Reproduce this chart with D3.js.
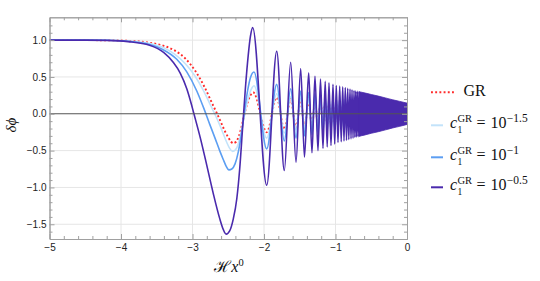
<!DOCTYPE html>
<html><head><meta charset="utf-8">
<script src="https://cdn.jsdelivr.net/npm/d3@7"></script>
<style>html,body{margin:0;padding:0;background:#fff;}svg{display:block;}</style>
</head><body>
<svg id="chart" width="540" height="281"></svg>
<script>
// ---------------- data ----------------
const xTicks = [-5, -4, -3, -2, -1, 0];
const yTicks = [-1.5, -1, -0.5, 0, 0.5, 1];
const xMinor = [-4.8,-4.6,-4.4,-4.2,-3.8,-3.6,-3.4,-3.2,-2.8,-2.6,-2.4,-2.2,-1.8,-1.6,-1.4,-1.2,-0.8,-0.6,-0.4,-0.2];
const yMinor = [-1.6,-1.4,-1.3,-1.2,-1.1,-0.9,-0.8,-0.7,-0.6,-0.4,-0.3,-0.2,-0.1,0.1,0.2,0.3,0.4,0.6,0.7,0.8,0.9,1.1,1.2];

const seriesNames = ["GR", "10^-1.5", "10^-1", "10^-0.5"];
const legendExp = ["", "\u22121.5", "\u22121", "\u22120.5"];

// smooth approach and first swing of each curve: [Hx0, dphi]
const grLead = [[-5,1],[-4.5,1],[-4.2,0.998],[-3.9,0.99],[-3.6,0.965],[-3.41,0.925],[-3.25,0.86],[-3.1,0.75],[-2.96,0.58],[-2.83,0.36],[-2.72,0.13],[-2.66,0.01],[-2.6,-0.12],[-2.55,-0.23],[-2.5,-0.32],[-2.46,-0.38],[-2.43,-0.40],[-2.39,-0.38],[-2.35,-0.30],[-2.31,-0.16],[-2.27,0.01],[-2.23,0.15],[-2.19,0.25],[-2.15,0.29]];
const lightLead = [[-5,1],[-4.5,1],[-4.2,0.998],[-3.9,0.988],[-3.6,0.955],[-3.41,0.90],[-3.25,0.81],[-3.1,0.68],[-2.97,0.52],[-2.85,0.32],[-2.75,0.12],[-2.685,-0.01],[-2.62,-0.15],[-2.57,-0.27],[-2.52,-0.39],[-2.48,-0.47],[-2.44,-0.51],[-2.40,-0.49],[-2.36,-0.41],[-2.32,-0.25],[-2.28,-0.05],[-2.24,0.14],[-2.20,0.28],[-2.17,0.35],[-2.14,0.38]];
const blueLead = [[-5,1],[-4.5,1],[-4.2,0.998],[-3.9,0.985],[-3.6,0.94],[-3.41,0.87],[-3.22,0.74],[-3.08,0.57],[-2.94,0.31],[-2.84,0.07],[-2.76,-0.14],[-2.685,-0.33],[-2.62,-0.50],[-2.57,-0.62],[-2.53,-0.71],[-2.49,-0.762],[-2.45,-0.75],[-2.405,-0.68],[-2.36,-0.52],[-2.31,-0.24],[-2.27,0.05],[-2.23,0.31],[-2.19,0.49],[-2.14,0.568]];
const purpleLead = [[-5,1],[-4.5,1],[-4.2,0.997],[-3.9,0.98],[-3.6,0.93],[-3.4,0.83],[-3.27,0.70],[-3.17,0.55],[-3.08,0.34],[-3.03,0.18],[-2.98,0.0],[-2.89,-0.33],[-2.80,-0.70],[-2.71,-1.08],[-2.62,-1.42],[-2.57,-1.57],[-2.53,-1.634],[-2.48,-1.59],[-2.43,-1.43],[-2.38,-1.15],[-2.34,-0.75],[-2.30,-0.2],[-2.26,0.35],[-2.22,0.80],[-2.19,1.05],[-2.158,1.17]];

// positions of the following extrema (trough, peak, trough, ...)
const extremaX = [-1.962,-1.822,-1.716,-1.627,-1.552,-1.487,-1.434,-1.375,-1.329,-1.287,-1.245,-1.210,-1.175,-1.144,-1.116,-1.091,-1.063,-1.035,-1.011,-0.989,-0.965,-0.941,-0.920,-0.899,-0.881,-0.863,-0.846,-0.829,-0.814,-0.797,-0.783,-0.769,-0.755,-0.741,-0.729,-0.717,-0.706,-0.695,-0.683,-0.671,-0.660];
const purpleExt = [-0.97,0.85,-0.77,0.70,-0.66,0.614,-0.59,0.555,-0.53,0.51,-0.50,0.47,-0.47,0.44,-0.45,0.42,-0.43,0.40,-0.41,0.385,-0.39,0.375,-0.38,0.365,-0.37,0.355,-0.36,0.345,-0.35,0.335,-0.34,0.325,-0.33,0.315,-0.32,0.31,-0.315,0.305,-0.31,0.30,-0.305];
const blueExt = [-0.476,0.40,-0.37,0.34,-0.33,0.31,-0.30,0.29,-0.285,0.275,-0.27,0.26,-0.255,0.25,-0.245,0.24,-0.235,0.23,-0.228,0.222,-0.218,0.213,-0.21,0.206,-0.203,0.2,-0.197,0.194,-0.191,0.188,-0.186,0.183,-0.181,0.179,-0.177,0.175,-0.173,0.171,-0.17,0.168,-0.167];
const lightExt = [-0.33,0.27,-0.26,0.23,-0.22,0.21,-0.205,0.2,-0.195,0.19,-0.185,0.18,-0.176,0.172,-0.168,0.165,-0.162,0.159,-0.156,0.153,-0.15,0.148,-0.146,0.144,-0.142,0.14,-0.138,0.136,-0.134,0.132,-0.13,0.128,-0.127,0.126,-0.125,0.124,-0.123,0.122,-0.121,0.12,-0.119];
const grExt = [-0.25,0.22,-0.21,0.20,-0.19,0.18,-0.175,0.17,-0.165,0.16,-0.155,0.15,-0.146,0.142,-0.138,0.135,-0.132,0.129,-0.126,0.123,-0.12,0.118,-0.116,0.114,-0.112,0.11,-0.108,0.106,-0.104,0.102,-0.1,0.099,-0.098,0.097,-0.096,0.095,-0.094,0.093,-0.092,0.091,-0.09];

// unresolved fast oscillation of the 10^-0.5 curve near the present: envelope
const bandX = [-0.671,-0.6,-0.5,-0.4,-0.3,-0.2,-0.1,0];
const bandUpper = [0.30,0.285,0.262,0.24,0.215,0.19,0.168,0.145];
const bandLower = [-0.305,-0.29,-0.265,-0.243,-0.218,-0.192,-0.17,-0.145];

// ---------------- drawing ----------------
const svg = d3.select("#chart");
const L = 49.5, R = 407, T = 17.3, B = 239;
const x = d3.scaleLinear().domain([-5, 0]).range([L, R]);
const y = d3.scaleLinear().domain([-1.7, 1.31]).range([B, T]);

const colors = {gr: "#ff2a2a", light: "#c3e3fa", blue: "#5c9ef2", purple: "#4a2aad"};
const frameCol = "#a0a0a0";
const sans = "'Liberation Sans', Arial, sans-serif";
const serif = "'Liberation Serif', 'Times New Roman', serif";

svg.append("defs").append("clipPath").attr("id", "clip")
  .append("rect").attr("x", L).attr("y", T).attr("width", R - L).attr("height", B - T);

// grid
const grid = svg.append("g");
grid.selectAll("line.gx").data(xTicks.filter(d => d > -5 && d < 0)).enter().append("line")
  .attr("x1", d => x(d)).attr("x2", d => x(d)).attr("y1", T).attr("y2", B)
  .attr("stroke", "#e6e6e6").attr("stroke-width", 1);
grid.selectAll("line.gy").data(yTicks.filter(d => d !== 0)).enter().append("line")
  .attr("y1", d => y(d)).attr("y2", d => y(d)).attr("x1", L).attr("x2", R)
  .attr("stroke", "#e6e6e6").attr("stroke-width", 1);

// curves
function build(lead, ext) {
  return lead.concat(extremaX.map((xv, i) => [xv, ext[i]]));
}
const line = d3.line().x(d => x(d[0])).y(d => y(d[1])).curve(d3.curveMonotoneX);
const plot = svg.append("g").attr("clip-path", "url(#clip)");

plot.append("path").datum(build(grLead, grExt)).attr("d", line)
  .attr("fill", "none").attr("stroke", colors.gr).attr("stroke-width", 1.9).attr("stroke-dasharray", "1.9,2.3");
plot.append("path").datum(build(lightLead, lightExt)).attr("d", line)
  .attr("fill", "none").attr("stroke", colors.light).attr("stroke-width", 1.6);
plot.append("path").datum(build(blueLead, blueExt)).attr("d", line)
  .attr("fill", "none").attr("stroke", colors.blue).attr("stroke-width", 1.6);
plot.append("path").datum(build(purpleLead, purpleExt)).attr("d", line)
  .attr("fill", "none").attr("stroke", colors.purple).attr("stroke-width", 1.6);

const band = d3.area().x(d => x(d[0])).y0(d => y(d[2])).y1(d => y(d[1])).curve(d3.curveMonotoneX);
plot.append("path").datum(bandX.map((xv, i) => [xv, bandUpper[i], bandLower[i]])).attr("d", band)
  .attr("fill", colors.purple).attr("stroke", colors.purple).attr("stroke-width", 0.8);

// zero line
svg.append("line").attr("x1", L).attr("x2", R).attr("y1", y(0)).attr("y2", y(0))
  .attr("stroke", "#555").attr("stroke-width", 1.1);

// frame axes with inward ticks
function styleAxis(g) {
  g.select(".domain").attr("stroke", frameCol).attr("stroke-width", 1);
  g.selectAll(".tick line").attr("stroke", frameCol);
  g.selectAll(".tick text").attr("fill", "#222").attr("font-family", sans).attr("font-size", 10);
}
const fx = d3.format("d"), fy = d3.format(".1f");
svg.append("g").attr("transform", `translate(0,${B})`)
  .call(d3.axisBottom(x).tickValues(xTicks).tickFormat(fx).tickSize(-5).tickSizeOuter(0).tickPadding(5)).call(styleAxis);
svg.append("g").attr("transform", `translate(0,${B})`)
  .call(d3.axisBottom(x).tickValues(xMinor).tickFormat("").tickSize(-3).tickSizeOuter(0)).call(styleAxis);
svg.append("g").attr("transform", `translate(0,${T})`)
  .call(d3.axisTop(x).tickValues(xTicks).tickFormat("").tickSize(-5).tickSizeOuter(0)).call(styleAxis);
svg.append("g").attr("transform", `translate(0,${T})`)
  .call(d3.axisTop(x).tickValues(xMinor).tickFormat("").tickSize(-3).tickSizeOuter(0)).call(styleAxis);
svg.append("g").attr("transform", `translate(${L},0)`)
  .call(d3.axisLeft(y).tickValues(yTicks).tickFormat(fy).tickSize(-5).tickSizeOuter(0).tickPadding(3)).call(styleAxis);
svg.append("g").attr("transform", `translate(${L},0)`)
  .call(d3.axisLeft(y).tickValues(yMinor).tickFormat("").tickSize(-3).tickSizeOuter(0)).call(styleAxis);
svg.append("g").attr("transform", `translate(${R},0)`)
  .call(d3.axisRight(y).tickValues(yTicks).tickFormat("").tickSize(-5).tickSizeOuter(0)).call(styleAxis);
svg.append("g").attr("transform", `translate(${R},0)`)
  .call(d3.axisRight(y).tickValues(yMinor).tickFormat("").tickSize(-3).tickSizeOuter(0)).call(styleAxis);

// axis labels
svg.append("text").attr("transform", "translate(16,125) rotate(-90)")
  .attr("text-anchor", "middle").attr("font-family", serif).attr("font-style", "italic")
  .attr("font-size", 15).attr("fill", "#111").text("\u03B4\u03D5");
const xl = svg.append("text").attr("x", 229).attr("y", 272).attr("text-anchor", "middle")
  .attr("font-family", serif).attr("font-size", 16).attr("fill", "#111");
xl.append("tspan").text("\u210B");
xl.append("tspan").attr("font-style", "italic").text("x");
xl.append("tspan").attr("font-size", 10.5).attr("dy", -6.5).text("0");

// legend
const lg = svg.append("g");
const legendY = [92.3, 125.3, 157.3, 187.3];
const legendCol = [colors.gr, colors.light, colors.blue, colors.purple];
lg.append("line").attr("x1", 431).attr("x2", 455).attr("y1", legendY[0]).attr("y2", legendY[0])
  .attr("stroke", colors.gr).attr("stroke-width", 1.9).attr("stroke-dasharray", "1.9,2.3");
lg.append("text").attr("x", 463.5).attr("y", legendY[0] + 3.7).attr("font-family", serif)
  .attr("font-size", 16).attr("fill", "#111").text(seriesNames[0]);
for (let i = 1; i < 4; i++) {
  const by = legendY[i] + 3;
  lg.append("line").attr("x1", 431).attr("x2", 443).attr("y1", legendY[i]).attr("y2", legendY[i])
    .attr("stroke", legendCol[i]).attr("stroke-width", 2);
  const t = lg.append("text").attr("x", 450).attr("y", by).attr("font-family", serif)
    .attr("font-size", 16).attr("fill", "#111");
  const c = t.append("tspan").attr("font-style", "italic").text("c");
  const sub = t.append("tspan").attr("font-size", 9.5).attr("dy", 4.5).text("1");
  const sup = t.append("tspan").attr("font-size", 10.5).attr("dy", -11).text("GR");
  const eq = t.append("tspan").attr("dy", 6.5).text("=");
  const ten = t.append("tspan").text("10");
  const ex = t.append("tspan").attr("font-size", 11.5).attr("dy", -6.5).text(legendExp[i]);
  const xs = 450 + c.node().getComputedTextLength() + 0.3;
  const ws = Math.max(sub.node().getComputedTextLength(), sup.node().getComputedTextLength());
  sub.attr("x", xs);
  sup.attr("x", xs);
  const xq = xs + ws + 4.5;
  eq.attr("x", xq);
  const xe = xq + eq.node().getComputedTextLength() + 5;
  ten.attr("x", xe);
  ex.attr("x", xe + ten.node().getComputedTextLength() + 0.3);
}
</script>
</body></html>
